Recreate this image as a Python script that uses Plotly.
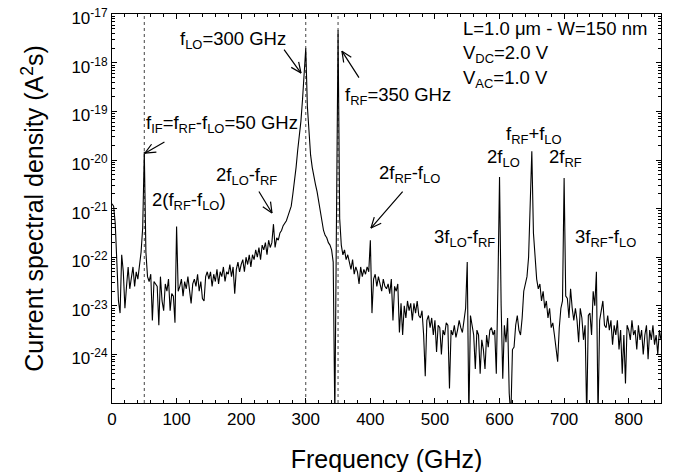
import math
import plotly.graph_objects as go

# ---------------- data (log10 of current spectral density, A^2 s) ----------------
FREQ_STEP = 2.5  # GHz, uniform spectral bins
psd_log_000_097 = [-20.9, -20.95, -21.3, -22.0, -22.9, -23.15, -21.95, -22.3, -23.05, -22.6,
                   -22.2, -22.65, -22.45, -22.2, -22.6, -22.3, -22.45, -22.15, -21.9, -21.4,
                   -19.83, -21.9, -22.4, -22.5, -22.35, -23.3, -22.5, -22.55, -22.6, -23.4,
                   -22.4, -22.9, -23.1, -22.55, -22.7, -22.45, -23.1, -22.75, -22.8, -23.35]
psd_log_100_197 = [-21.37, -22.7, -22.6, -22.45, -22.8, -22.5, -22.65, -22.4, -22.75, -22.95,
                   -22.55, -22.45, -22.6, -22.35, -22.7, -22.5, -22.85, -22.9, -22.4, -22.3,
                   -22.45, -22.3, -22.6, -22.35, -22.5, -22.25, -22.55, -22.3, -22.4, -22.2,
                   -22.5, -22.3, -22.35, -22.15, -22.4, -22.2, -22.75, -22.25, -22.1, -22.3]
psd_log_200_297 = [-22.15, -22.05, -22.3, -22.0, -22.15, -21.95, -22.2, -21.95, -22.05, -21.85,
                   -22.0, -21.8, -22.05, -21.75, -21.85, -21.7, -21.95, -21.65, -21.8, -21.7,
                   -21.32, -21.8, -21.6, -21.65, -21.5, -21.45, -21.35, -21.3, -21.25, -21.15,
                   -21.05, -20.95, -20.7, -20.45, -20.15, -19.8, -19.5, -19.2, -18.75, -18.2]
psd_log_300_397 = [-17.7, -18.9, -19.5, -19.9, -20.15, -20.35, -20.5, -20.65, -20.85, -21.05,
                   -21.3, -21.45, -21.55, -21.6, -21.7, -21.75, -21.85, -22.1, -25.3, -21.3,
                   -17.33, -21.2, -21.75, -21.95, -21.85, -22.05, -21.95, -22.1, -22.25, -22.05,
                   -22.35, -22.2, -22.3, -22.55, -22.2, -22.4, -22.25, -22.35, -22.2, -22.3]
psd_log_400_497 = [-21.65, -23.15, -22.45, -22.35, -22.6, -22.4, -22.55, -22.7, -22.45, -22.6,
                   -22.65, -22.55, -22.75, -22.45, -23.3, -22.6, -22.7, -22.55, -23.55, -22.95,
                   -23.6, -23.0, -23.25, -22.9, -23.1, -22.95, -23.3, -22.95, -23.15, -22.9,
                   -23.2, -23.25, -23.1, -23.6, -24.45, -23.3, -23.2, -23.45, -23.25, -23.6]
psd_log_500_597 = [-23.3, -23.95, -23.4, -23.45, -24.0, -23.5, -23.6, -23.35, -23.4, -24.7,
                   -23.5, -23.6, -23.4, -23.65, -23.5, -23.3, -23.45, -23.55, -23.3, -23.05,
                   -22.1, -25.3, -23.2, -23.4, -23.6, -24.3, -23.5, -23.6, -24.4, -23.7,
                   -23.9, -24.3, -23.6, -23.85, -23.5, -23.45, -23.6, -23.5, -24.4, -22.6]
psd_log_600_697 = [-20.35, -23.0, -24.5, -23.4, -23.75, -23.25, -24.8, -25.3, -23.9, -23.85,
                   -23.4, -23.2, -23.5, -23.6, -23.25, -22.7, -22.55, -22.4, -22.0, -21.1,
                   -19.82, -21.5, -22.0, -22.45, -22.65, -22.55, -22.9, -22.7, -23.05, -22.9,
                   -23.25, -23.05, -23.45, -23.35, -23.6, -23.9, -24.15, -23.45, -23.05, -22.9]
psd_log_700_797 = [-20.37, -22.8, -22.85, -23.25, -22.65, -23.05, -23.3, -23.05, -23.3, -23.75,
                   -23.05, -23.25, -23.7, -23.4, -25.3, -23.2, -23.15, -23.6, -22.7, -23.0,
                   -22.3, -25.3, -23.3, -23.1, -22.9, -23.4, -23.45, -23.2, -23.5, -23.3,
                   -23.8, -23.4, -23.6, -23.3, -23.9, -23.5, -24.4, -23.6, -24.6, -23.4]
psd_log_800_850 = [-23.5, -23.7, -23.3, -23.6, -23.5, -23.9, -23.4, -23.7, -23.5, -24.0,
                   -23.6, -23.4, -24.1, -23.5, -23.7, -23.4, -23.8, -23.6, -24.0, -23.5, -23.7]

marker_freqs = [50, 300, 350]  # f_IF, f_LO, f_RF (dotted guide lines)
ytick_exps = [-17, -18, -19, -20, -21, -22, -23, -24]
xtick_vals = [0, 100, 200, 300, 400, 500, 600, 700, 800]

psd_log = (psd_log_000_097 + psd_log_100_197 + psd_log_200_297 + psd_log_300_397 +
           psd_log_400_497 + psd_log_500_597 + psd_log_600_697 + psd_log_700_797 +
           psd_log_800_850)
freq = [i * FREQ_STEP for i in range(len(psd_log))]
psd = [10 ** v for v in psd_log]

FONT = "Arial, Liberation Sans, Helvetica, sans-serif"

fig = go.Figure()
fig.add_trace(go.Scatter(x=freq, y=psd, mode="lines",
                         line=dict(color="black", width=1.1), showlegend=False,
                         hoverinfo="x+y"))

for f in marker_freqs:
    fig.add_shape(type="line", x0=f, x1=f, xref="x", y0=0, y1=1, yref="paper",
                  line=dict(color="#444444", width=1, dash="dot"), layer="below")

# ---------------- text labels ----------------
labels = [
    ("L=1.0 \u03bcm - W=150 nm", 540, -17.29),
    ("V<sub>DC</sub>=2.0 V", 540, -17.82),
    ("V<sub>AC</sub>=1.0 V", 540, -18.34),
    ("f<sub>LO</sub>=300 GHz", 102, -17.53),
    ("f<sub>RF</sub>=350 GHz", 358, -18.69),
    ("f<sub>IF</sub>=f<sub>RF</sub>-f<sub>LO</sub>=50 GHz", 49, -19.26),
    ("2(f<sub>RF</sub>-f<sub>LO</sub>)", 59, -20.85),
    ("2f<sub>LO</sub>-f<sub>RF</sub>", 158.5, -20.33),
    ("2f<sub>RF</sub>-f<sub>LO</sub>", 411, -20.29),
    ("f<sub>RF</sub>+f<sub>LO</sub>", 607, -19.49),
    ("2f<sub>LO</sub>", 578, -19.96),
    ("2f<sub>RF</sub>", 674, -19.96),
    ("3f<sub>LO</sub>-f<sub>RF</sub>", 496, -21.61),
    ("3f<sub>RF</sub>-f<sub>LO</sub>", 713, -21.61),
]
for text, fx, ly in labels:
    fig.add_annotation(x=fx, y=ly, xref="x", yref="y", text=text, showarrow=False,
                       xanchor="left", yanchor="middle",
                       font=dict(family=FONT, size=18.5, color="black"))

# ---------------- open-V arrows: tip in data coords, tail offset in px ----------------
arrows = [
    (51.0, -19.86, 21, -12),
    (292.6, -18.21, -18, -25),
    (356.0, -17.76, 18, 28),
    (247.7, -21.09, -14, -23),
    (400.9, -21.40, 33, -38),
]
BARB = 13
HALF = math.radians(24)
for fx, ly, dx, dy in arrows:
    fig.add_annotation(x=fx, y=ly, xref="x", yref="y", ax=dx, ay=dy, text="",
                       showarrow=True, arrowhead=0, arrowwidth=1.2, arrowcolor="black",
                       standoff=0)
    L = math.hypot(dx, dy)
    ux, uy = dx / L, dy / L
    for s in (1, -1):
        c, sn = math.cos(s * HALF), math.sin(s * HALF)
        bx, by = (ux * c - uy * sn) * BARB, (ux * sn + uy * c) * BARB
        fig.add_annotation(x=fx, y=ly, xref="x", yref="y", ax=bx, ay=by, text="",
                           showarrow=True, arrowhead=0, arrowwidth=1.2,
                           arrowcolor="black", standoff=0)

fig.update_layout(
    width=674, height=472,
    margin=dict(l=104, r=21, t=6, b=77, autoexpand=False),
    paper_bgcolor="white", plot_bgcolor="white",
    font=dict(family=FONT, color="black"),
    showlegend=False,
)
fig.update_xaxes(
    range=[0, 850], tickmode="array", tickvals=xtick_vals, automargin=False,
    ticks="inside", ticklen=5, tickwidth=1, tickcolor="black",
    showline=True, linecolor="black", linewidth=1.2, mirror="ticks",
    showgrid=False, zeroline=False,
    tickfont=dict(family=FONT, size=17),
    minor=dict(dtick=20, ticks="inside", ticklen=3, tickcolor="black", showgrid=False),
    title=dict(text="Frequency (GHz)", font=dict(family=FONT, size=25), standoff=22),
)
fig.update_yaxes(
    type="log", range=[-25, -16.995], tickmode="array", automargin=False,
    tickvals=[10 ** e for e in ytick_exps],
    ticktext=["10<sup>%d</sup>" % e for e in ytick_exps],
    ticks="inside", ticklen=5, tickwidth=1, tickcolor="black",
    showline=True, linecolor="black", linewidth=1.2, mirror="ticks",
    showgrid=False, zeroline=False,
    tickfont=dict(family=FONT, size=17),
    ticklabeloverflow="allow", ticklabelshift=4,
    minor=dict(dtick="D1", ticks="inside", ticklen=3, tickcolor="black", showgrid=False),
    title=dict(text="Current spectral density (A<sup>2</sup>s)",
               font=dict(family=FONT, size=25), standoff=20),
)

fig.write_html("out.html")
